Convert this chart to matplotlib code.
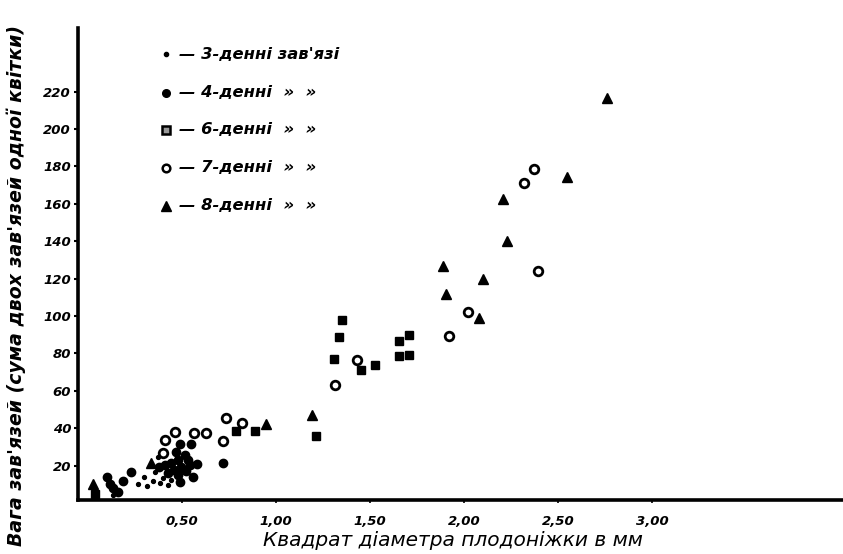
import matplotlib
matplotlib.use("Agg")
import matplotlib.pyplot as plt
from matplotlib.lines import Line2D

# --- data: squared peduncle diameter (mm^2) vs. ovary weight ---
x_day3 = [0.266, 0.30, 0.315, 0.346, 0.355, 0.381, 0.426, 0.443, 0.372, 0.40, 0.133]
y_day3 = [10.0, 14.0, 9.3, 11.8, 16.4, 10.5, 9.6, 12.3, 24.8, 13.5, 4.3]

x_day4 = [0.10, 0.115, 0.16, 0.186, 0.23, 0.135, 0.38, 0.411, 0.426, 0.443, 0.47,
          0.479, 0.479, 0.488, 0.496, 0.514, 0.532, 0.541, 0.546, 0.559, 0.58,
          0.49, 0.455, 0.52, 0.72]
y_day4 = [14.1, 10.0, 6.1, 11.8, 16.4, 8.0, 19.0, 20.3, 15.9, 21.2, 27.4,
          23.0, 15.0, 31.6, 19.4, 25.7, 23.0, 20.3, 31.6, 14.1, 20.9,
          11.4, 17.6, 17.0, 21.6]

x_day6 = [0.04, 0.79, 0.89, 1.213, 1.31, 1.335, 1.349, 1.45, 1.527, 1.656, 1.709,
          1.656, 1.707]
y_day6 = [5.0, 38.7, 38.7, 36.0, 77.0, 88.6, 97.9, 71.1, 73.8, 86.8, 89.7,
          78.6, 79.0]

x_day7 = [0.41, 0.463, 0.564, 0.63, 0.72, 0.732, 0.40, 0.82, 1.314, 1.433, 1.92,
          2.02, 2.32, 2.375, 2.395]
y_day7 = [33.9, 37.8, 37.3, 37.4, 33.3, 45.5, 26.6, 43.0, 63.3, 76.5, 89.5,
          102.0, 171.3, 178.4, 124.0]

x_day8 = [0.028, 0.333, 0.945, 1.193, 1.886, 1.904, 2.08, 2.10, 2.21, 2.227,
          2.546, 2.76]
y_day8 = [10.0, 21.2, 42.2, 46.8, 126.7, 111.6, 98.8, 119.8, 162.6, 140.1,
          174.2, 216.4]

x_ticks = [0.5, 1.0, 1.5, 2.0, 2.5, 3.0]
x_tick_labels = ["0,50", "1,00", "1,50", "2,00", "2,50", "3,00"]
y_ticks = [20, 40, 60, 80, 100, 120, 140, 160, 180, 200, 220]

legend_labels = ["— 3-деннi зав'язi", "— 4-деннi  »  »", "— 6-деннi  »  »",
                 "— 7-деннi  »  »", "— 8-деннi  »  »"]

plt.rcParams["font.family"] = ["DejaVu Sans"]

fig = plt.figure(figsize=(8.43, 5.54), dpi=100)
ax = fig.add_axes([78 / 843, 54 / 554, 765 / 843, 472 / 554])

ax.plot(x_day3, y_day3, "o", color="black", ms=2.8, ls="none")
ax.plot(x_day4, y_day4, "o", color="black", ms=6.0, ls="none")
ax.plot(x_day6, y_day6, "s", color="black", ms=5.8, ls="none")
ax.plot(x_day7, y_day7, "o", mfc="white", mec="black", mew=2.0, ms=6.2, ls="none")
ax.plot(x_day8, y_day8, "^", color="black", ms=7.0, ls="none")

ax.set_xlim(-0.053, 4.016)
ax.set_ylim(1.6, 254)

for side in ("top", "right"):
    ax.spines[side].set_visible(False)
for side in ("left", "bottom"):
    ax.spines[side].set_linewidth(2.6)

ax.set_xticks(x_ticks)
ax.set_xticklabels(x_tick_labels)
ax.set_yticks(y_ticks)
for lab in ax.get_xticklabels() + ax.get_yticklabels():
    lab.set_fontsize(9.5)
    lab.set_fontweight("bold")
    lab.set_fontstyle("italic")
ax.tick_params(axis="y", length=3, width=1.5, pad=2)
ax.tick_params(axis="x", length=2, width=1.2, pad=9)

fig.text(453 / 843, 1 - 541 / 554, "Квадрат діаметра плодоніжки в мм",
         ha="center", va="center", fontsize=14.5, fontstyle="italic")
fig.text(16 / 843, 1 - 285 / 554, "Вага зав'язей (сума двох зав'язей одної квітки)",
         ha="center", va="center", rotation=90, fontsize=13.6,
         fontstyle="italic", fontweight="bold")

# key, drawn in figure coordinates
legend_rows = [54, 93, 130, 168, 206]
legend_markers = [
    dict(marker="o", ms=3.0, mfc="black", mec="black"),
    dict(marker="o", ms=5.5, mfc="black", mec="black"),
    dict(marker="s", ms=5.5, mfc="0.6", mec="black", mew=1.8),
    dict(marker="o", ms=5.5, mfc="white", mec="black", mew=1.8),
    dict(marker="^", ms=6.5, mfc="black", mec="black"),
]
for row, style, label in zip(legend_rows, legend_markers, legend_labels):
    yf = 1 - row / 554
    fig.add_artist(Line2D([166 / 843], [yf], ls="none", transform=fig.transFigure,
                          **style))
    fig.text(179 / 843, yf, label, ha="left", va="center", fontsize=11.8,
             fontstyle="italic", fontweight="bold")

fig.savefig("out.png", dpi=100)
